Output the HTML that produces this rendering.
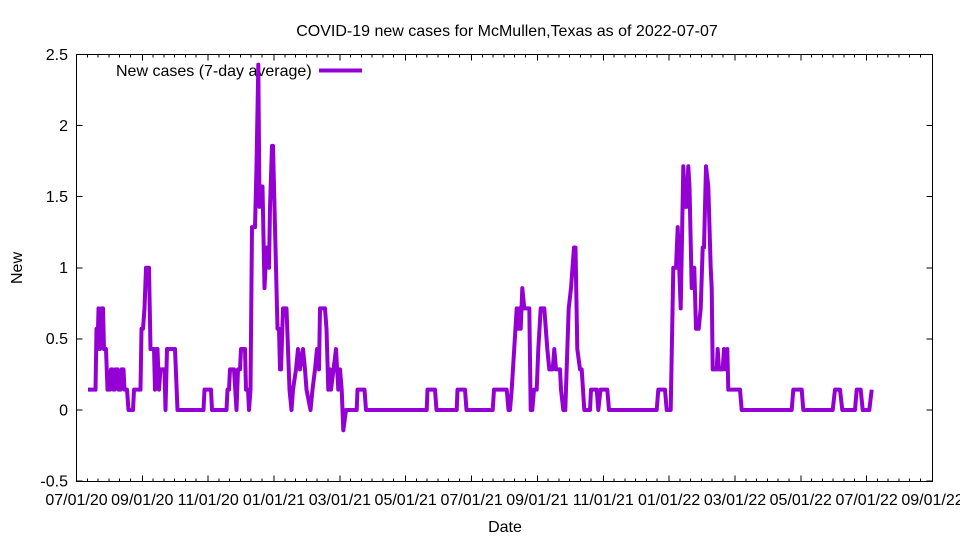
<!DOCTYPE html>
<html>
<head>
<meta charset="utf-8">
<style>
html,body{margin:0;padding:0;background:#fff;}
svg{display:block;}
text{font-family:"Liberation Sans",Arial,sans-serif;font-size:16px;fill:#000;}
</style>
</head>
<body>
<svg width="960" height="540" viewBox="0 0 960 540" xmlns="http://www.w3.org/2000/svg">
<rect x="0" y="0" width="960" height="540" fill="#fff"/>

<!-- title -->
<text x="507" y="36" text-anchor="middle">COVID-19 new cases for McMullen,Texas as of 2022-07-07</text>

<!-- axis labels -->
<text x="505" y="532" text-anchor="middle">Date</text>
<text transform="translate(22,268) rotate(-90)" text-anchor="middle">New</text>

<!-- frame -->
<g stroke="#000" stroke-width="1" fill="none" shape-rendering="crispEdges">
<rect x="76.5" y="54.5" width="856" height="427"/>
<!-- y ticks left & right -->
<path d="M76.5 54.5h6M76.5 125.6h6M76.5 196.7h6M76.5 267.8h6M76.5 338.9h6M76.5 410h6M76.5 481.1h6
M932.5 54.5h-6M932.5 125.6h-6M932.5 196.7h-6M932.5 267.8h-6M932.5 338.9h-6M932.5 410h-6M932.5 481.1h-6"/>
<!-- x major ticks bottom & top -->
<path d="M76.5 481.5v-6M142.3 481.5v-6M208.2 481.5v-6M274 481.5v-6M339.9 481.5v-6M405.7 481.5v-6M471.6 481.5v-6M537.4 481.5v-6M603.3 481.5v-6M669.1 481.5v-6M735 481.5v-6M800.8 481.5v-6M866.7 481.5v-6M932.5 481.5v-6
M76.5 54.5v6M142.3 54.5v6M208.2 54.5v6M274 54.5v6M339.9 54.5v6M405.7 54.5v6M471.6 54.5v6M537.4 54.5v6M603.3 54.5v6M669.1 54.5v6M735 54.5v6M800.8 54.5v6M866.7 54.5v6M932.5 54.5v6"/>
<!-- x minor ticks bottom -->
<path d="M87.3 481.5v-3M98 481.5v-3M108.8 481.5v-3M119.5 481.5v-3M130.3 481.5v-3
M153.1 481.5v-3M163.8 481.5v-3M174.6 481.5v-3M185.3 481.5v-3M196.1 481.5v-3
M219 481.5v-3M229.7 481.5v-3M240.5 481.5v-3M251.2 481.5v-3M262 481.5v-3
M284.8 481.5v-3M295.5 481.5v-3M306.3 481.5v-3M317 481.5v-3M327.8 481.5v-3
M350.7 481.5v-3M361.4 481.5v-3M372.2 481.5v-3M382.9 481.5v-3M393.7 481.5v-3
M416.5 481.5v-3M427.2 481.5v-3M438 481.5v-3M448.7 481.5v-3M459.5 481.5v-3
M482.4 481.5v-3M493.1 481.5v-3M503.9 481.5v-3M514.6 481.5v-3M525.4 481.5v-3
M548.2 481.5v-3M558.9 481.5v-3M569.7 481.5v-3M580.4 481.5v-3M591.2 481.5v-3
M614.1 481.5v-3M624.8 481.5v-3M635.6 481.5v-3M646.3 481.5v-3M657.1 481.5v-3
M679.9 481.5v-3M690.6 481.5v-3M701.4 481.5v-3M712.1 481.5v-3M722.9 481.5v-3
M745.8 481.5v-3M756.5 481.5v-3M767.3 481.5v-3M778 481.5v-3M788.8 481.5v-3
M811.6 481.5v-3M822.3 481.5v-3M833.1 481.5v-3M843.8 481.5v-3M854.6 481.5v-3
M877.5 481.5v-3M888.2 481.5v-3M899 481.5v-3M909.7 481.5v-3M920.5 481.5v-3"/>
<!-- x minor ticks top -->
<path d="M87.3 54.5v3M98 54.5v3M108.8 54.5v3M119.5 54.5v3M130.3 54.5v3
M153.1 54.5v3M163.8 54.5v3M174.6 54.5v3M185.3 54.5v3M196.1 54.5v3
M219 54.5v3M229.7 54.5v3M240.5 54.5v3M251.2 54.5v3M262 54.5v3
M284.8 54.5v3M295.5 54.5v3M306.3 54.5v3M317 54.5v3M327.8 54.5v3
M350.7 54.5v3M361.4 54.5v3M372.2 54.5v3M382.9 54.5v3M393.7 54.5v3
M416.5 54.5v3M427.2 54.5v3M438 54.5v3M448.7 54.5v3M459.5 54.5v3
M482.4 54.5v3M493.1 54.5v3M503.9 54.5v3M514.6 54.5v3M525.4 54.5v3
M548.2 54.5v3M558.9 54.5v3M569.7 54.5v3M580.4 54.5v3M591.2 54.5v3
M614.1 54.5v3M624.8 54.5v3M635.6 54.5v3M646.3 54.5v3M657.1 54.5v3
M679.9 54.5v3M690.6 54.5v3M701.4 54.5v3M712.1 54.5v3M722.9 54.5v3
M745.8 54.5v3M756.5 54.5v3M767.3 54.5v3M778 54.5v3M788.8 54.5v3
M811.6 54.5v3M822.3 54.5v3M833.1 54.5v3M843.8 54.5v3M854.6 54.5v3
M877.5 54.5v3M888.2 54.5v3M899 54.5v3M909.7 54.5v3M920.5 54.5v3"/>
</g>

<!-- y tick labels -->
<g text-anchor="end">
<text x="68" y="60">2.5</text>
<text x="68" y="131">2</text>
<text x="68" y="202">1.5</text>
<text x="68" y="273">1</text>
<text x="68" y="344">0.5</text>
<text x="68" y="415.5">0</text>
<text x="68" y="486.5">-0.5</text>
</g>

<!-- x tick labels -->
<g text-anchor="middle">
<text x="76.5" y="505">07/01/20</text>
<text x="142.3" y="505">09/01/20</text>
<text x="208.2" y="505">11/01/20</text>
<text x="274" y="505">01/01/21</text>
<text x="339.9" y="505">03/01/21</text>
<text x="405.7" y="505">05/01/21</text>
<text x="471.6" y="505">07/01/21</text>
<text x="537.4" y="505">09/01/21</text>
<text x="603.3" y="505">11/01/21</text>
<text x="669.1" y="505">01/01/22</text>
<text x="735" y="505">03/01/22</text>
<text x="800.8" y="505">05/01/22</text>
<text x="866.7" y="505">07/01/22</text>
<text x="932.5" y="505">09/01/22</text>
</g>

<!-- legend -->
<text x="116" y="76">New cases (7-day average)</text>
<line x1="319" y1="70.5" x2="362" y2="70.5" stroke="#9400d3" stroke-width="4"/>

<!-- data series (x in px, y in sevenths) -->
<g transform="translate(0,410) scale(1,-20.314)">
<polyline fill="none" stroke="#9400d3" stroke-width="4" stroke-linejoin="round" vector-effect="non-scaling-stroke"
points="88,1 95.5,1 96.5,4 97.5,3 98.5,5 100,3 101.5,5 103,5 104,3 106,3 107.5,1 110,1 111,2 112.5,2 113.5,1 114.5,1 115.5,2 117.5,2 118.5,1 120.5,1 121.5,2 123.5,2 124.5,1 127,1 128.5,0 133,0 134,1 140.5,1 141.5,4 143,4 144.5,5 146,7 149,7 150.5,3 154,3 155,1 156.5,3 157.5,3 159,1 160.5,2 164.5,2 165.5,0 167,3 175,3 177.5,0 203.5,0 204.5,1 211,1 212,0 226.5,0 227.5,1 229,1 230,2 234,2 236.5,0 238,2 240,2 241,3 245,3 246,1 248,1 249,0 250.5,1 252,9 255,9 256.5,12 258.3,17 259.5,10 261.5,11 262.5,11 264.5,6 266.5,8 268,8 269,7 270,10 272,13 273,13 275.5,8 277.5,4 279,4 280,2 281,2 283,5 286.5,5 289.5,1 291.5,0 293,1 296,2 298,3 300,2 303,3 305,2 306.5,1 310.5,0 312.5,1 315,2 317,3 319,2 320,5 325,5 326.5,4 328.3,1 330,2 331,1 336,3 338.3,1 340,2 341.7,1 343.3,-1 346,0 356.7,0 357.5,1 364.5,1 366,0 426.7,0 427.5,1 435,1 436.5,0 456.7,0 457.5,1 465,1 466.5,0 492.7,0 494,1 506.7,1 508.5,0 510,0 511.7,1 516.7,5 518.3,4 519.3,5 520.7,4 522.3,6 524.3,5 529.3,5 530.7,0 532.3,0 534,1 536.7,1 538.3,3 540.7,5 544.3,5 547.3,3 549.3,2 552.7,2 554.3,3 556,2 560,2 561,1 563.3,0 565.3,0 568.7,5 571,6 574,8 575.5,8 577.3,3 580,2 581.7,2 584.3,0 590,0 591,1 596.7,1 598.3,0 600.5,1 607.3,1 609,0 656.7,0 658.3,1 665,1 666.7,0 670.7,0 673.3,7 676,7 677.7,9 680.7,5 683.3,12 685,10 686.5,10 688.3,12 689.5,11 691.7,6 694.3,7 696,4 698.7,4 700.7,5 702.7,8 704,8 706,12 708.3,11 710.7,7 711.7,6 712.7,2 716.7,2 717.7,3 719,2 722.7,2 724,3 725.5,2 726.5,2 727.3,3 728.3,1 740,1 741.7,0 791.7,0 793.3,1 801.7,1 803.3,0 832.7,0 835,1 840,1 842.3,0 855,0 856.7,1 860.7,1 862.7,0 869.3,0 871.7,1"/>
</g>
</svg>
</body>
</html>
